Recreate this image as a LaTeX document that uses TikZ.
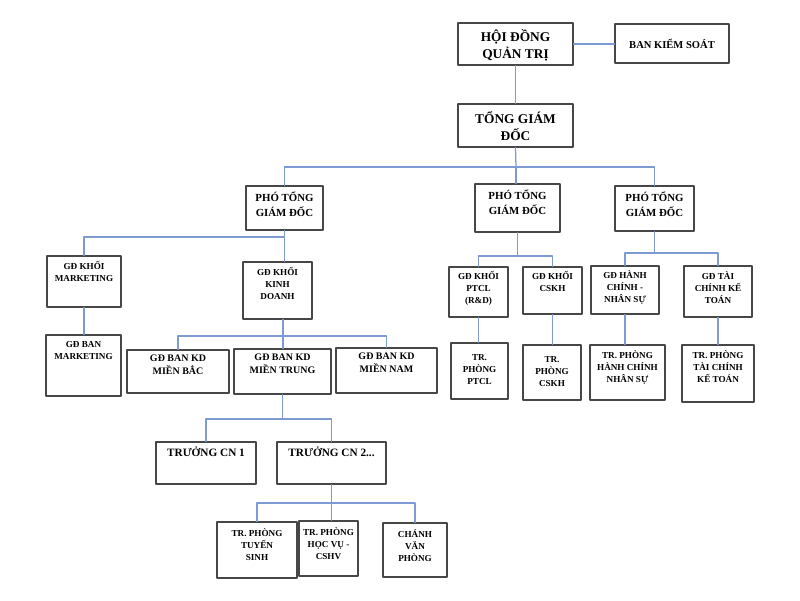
\documentclass[tikz,border=0pt]{standalone}
\usepackage{fontspec}
\setmainfont{Liberation Serif}
\definecolor{linkblue}{RGB}{125,155,210}
\begin{document}
\begin{tikzpicture}[x=0.025cm,y=-0.025cm,line join=round,line cap=round,
	box/.style 2 args={draw=black!72,line width=0.9pt,minimum width=#1*0.025cm,minimum height=#2*0.025cm,inner sep=0pt},
	txt/.style={anchor=north,align=center,inner sep=0pt,yshift=-#1*0.025cm,font=\bfseries\fontsize{6.5}{8.5}\selectfont},
	txt/.default=6,
	big/.style={font=\bfseries\fontsize{9.5}{12}\selectfont},
	pho/.style={font=\bfseries\fontsize{7.7}{10.7}\selectfont},
	mid/.style={font=\bfseries\fontsize{7.1}{9.3}\selectfont},
	conn/.style={draw=linkblue,line width=0.9pt}]
	\useasboundingbox (0,0) rectangle (800,600);
	% top level
	\node[box={115}{42},label={[txt=7,big]north:HỘI ĐỒNG\\QUẢN TRỊ}] (hdqt) at (515.5,44) {};
	\node[box={114}{39},font=\bfseries\fontsize{7.5}{9}\selectfont] (bks) at (672,43.5) {BAN KIỂM SOÁT};
	\node[box={115}{43},label={[txt=8,big]north:TỔNG GIÁM\\ĐỐC}] (tgd) at (515.5,125.5) {};
	\node[box={77}{44},label={[txt,pho]north:PHÓ TỔNG\\GIÁM ĐỐC}] (ptgd1) at (284.5,208) {};
	\node[box={85}{48},label={[txt,pho]north:PHÓ TỔNG\\GIÁM ĐỐC}] (ptgd2) at (517.5,208) {};
	\node[box={79}{45},label={[txt,pho]north:PHÓ TỔNG\\GIÁM ĐỐC}] (ptgd3) at (654.5,208.5) {};
	% khoi marketing / kinh doanh
	\node[box={74}{51},label={[txt]north:GĐ KHỐI\\MARKETING}] (kmk) at (84,281.5) {};
	\node[box={75}{61},label={[txt=7]north:GĐ BAN\\MARKETING}] (bmk) at (83.5,365.5) {};
	\node[box={69}{57},label={[txt]north:GĐ KHỐI\\KINH\\DOANH}] (kkd) at (277.5,290.5) {};
	\node[box={102}{43},label={[txt=5,mid]north:GĐ BAN KD\\MIỀN BẮC}] (kdbac) at (178,371.5) {};
	\node[box={97}{45},label={[txt=5,mid]north:GĐ BAN KD\\MIỀN TRUNG}] (kdtrung) at (282.5,371.5) {};
	\node[box={101}{45},label={[txt=5,mid]north:GĐ BAN KD\\MIỀN NAM}] (kdnam) at (386.5,370.5) {};
	\node[box={100}{42},label={[txt=5,mid,font=\bfseries\fontsize{8}{10}\selectfont]north:TRƯỞNG CN 1}] (cn1) at (206,463) {};
	\node[box={109}{42},label={[txt=5,mid,font=\bfseries\fontsize{8}{10}\selectfont]north:TRƯỞNG CN 2...}] (cn2) at (331.5,463) {};
	\node[box={80}{56},label={[txt=7]north:TR. PHÒNG\\TUYỂN\\SINH}] (tuyen) at (257,550) {};
	\node[box={59}{55},label={[txt=7]north:TR. PHÒNG\\HỌC VỤ -\\CSHV}] (hocvu) at (328.5,548.5) {};
	\node[box={64}{54},label={[txt=7]north:CHÁNH\\VĂN\\PHÒNG}] (cvp) at (415,550) {};
	% khoi ptcl / cskh
	\node[box={59}{50},label={[txt=5]north:GĐ KHỐI\\PTCL\\(R\&D)}] (kptcl) at (478.5,292) {};
	\node[box={59}{47},label={[txt=5]north:GĐ KHỐI\\CSKH}] (kcskh) at (552.5,290.5) {};
	\node[box={57}{56},label={[txt=12]north:TR.\\PHÒNG\\PTCL}] (tptcl) at (479.5,371) {};
	\node[box={58}{55},label={[txt=12]north:TR.\\PHÒNG\\CSKH}] (tcskh) at (552,372.5) {};
	% khoi hanh chinh / tai chinh
	\node[box={68}{48},label={[txt=5]north:GĐ HÀNH\\CHÍNH -\\NHÂN SỰ}] (khcns) at (625,290) {};
	\node[box={68}{51},label={[txt]north:GĐ TÀI\\CHÍNH KẾ\\TOÁN}] (ktckt) at (718,291.5) {};
	\node[box={75}{55},label={[txt]north:TR. PHÒNG\\HÀNH CHÍNH\\NHÂN SỰ}] (thcns) at (627.5,372.5) {};
	\node[box={72}{57},label={[txt]north:TR. PHÒNG\\TÀI CHÍNH\\KẾ TOÁN}] (ttckt) at (718,373.5) {};
	% junctions
	\coordinate (j0) at (516,167);
	\coordinate (j1) at (284.5,237);
	\coordinate (j2) at (283,336);
	\coordinate (j3) at (282.5,419);
	\coordinate (j4) at (331.5,503);
	\coordinate (j5) at (517.5,256);
	\coordinate (j6) at (654.5,253);
	% connectors
	\draw[conn] (hdqt.east) -- (hdqt.east -| bks.west);
	\draw[conn] (hdqt) -- (tgd);
	\draw[conn] (tgd.south) -- (j0);
	\draw[conn] (ptgd1.north) |- (j0) -| (ptgd3.north);
	\draw[conn] (j0) -- (j0 |- ptgd2.north);
	\draw[conn] (ptgd1.south) -- (ptgd1.south |- kkd.north);
	\draw[conn] (kmk.north) |- (j1);
	\draw[conn] (j2 |- kkd.south) -- (j2 |- kdtrung.north);
	\draw[conn] (kdbac.north) |- (j2) -| (kdnam.north);
	\draw[conn] (kdtrung.south) -- (j3);
	\draw[conn] (cn1.north) |- (j3) -| (cn2.north);
	\draw[conn] (cn2.south) -- (j4);
	\draw[conn] (tuyen.north) |- (j4) -| (cvp.north);
	\draw[conn] (j4) -- (j4 |- hocvu.north);
	\draw[conn] (ptgd2.south) -- (j5);
	\draw[conn] (kptcl.north) |- (j5) -| (kcskh.north);
	\draw[conn] (ptgd3.south) -- (j6);
	\draw[conn] (khcns.north) |- (j6) -| (ktckt.north);
	\foreach \a/\b in {kmk/bmk,kptcl/tptcl,kcskh/tcskh,khcns/thcns,ktckt/ttckt}
	\draw[conn] (\a.south) -- (\a.south |- \b.north);
\end{tikzpicture}
\end{document}
